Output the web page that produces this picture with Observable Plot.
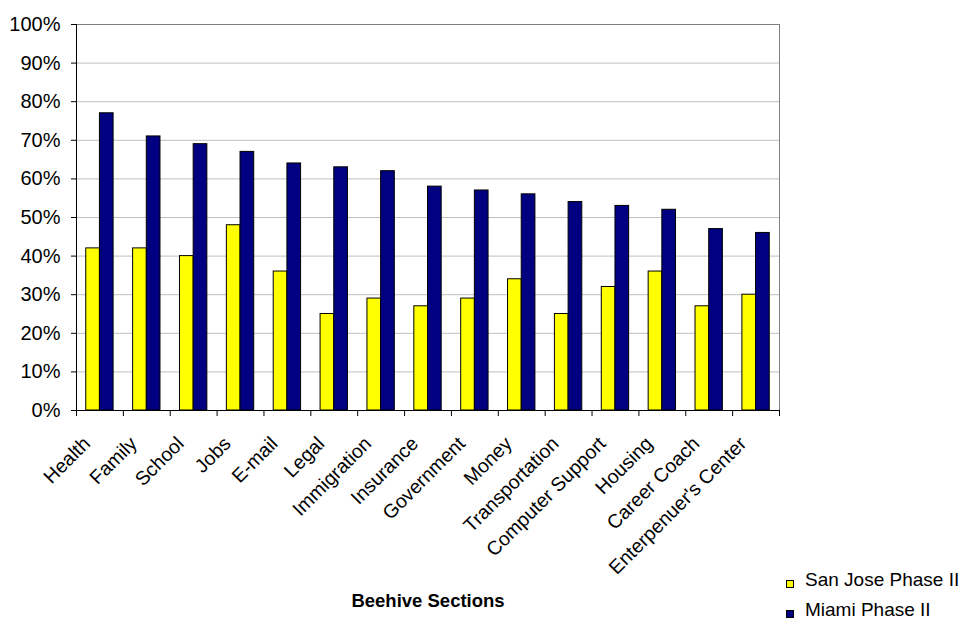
<!DOCTYPE html>
<html>
<head>
<meta charset="utf-8">
<script src="https://cdn.jsdelivr.net/npm/d3@7"></script>
<script src="https://cdn.jsdelivr.net/npm/@observablehq/plot@0.6"></script>
<style>
  body { margin: 0; background: #fff; font-family: "Liberation Sans", Arial, sans-serif; }
  #chart { position: relative; width: 964px; height: 620px; overflow: hidden; }
  .legend { position: absolute; left: 786px; top: 570px; font-size: 19px; color: #000; }
  .legend .row { display: flex; align-items: center; height: 20px; line-height: 20px; margin-bottom: 10px; white-space: nowrap; }
  .legend .sw { box-sizing: border-box; width: 8px; height: 8px; border: 1px solid #000; margin: 8px 11px 0 0; }
</style>
</head>
<body>
<div id="chart"></div>
<script>
// Sections of the Beehive site and share of users visiting each (percent)
const categories = ["Health", "Family", "School", "Jobs", "E-mail", "Legal", "Immigration", "Insurance",
  "Government", "Money", "Transportation", "Computer Support", "Housing", "Career Coach", "Enterpenuer's Center"];
const sanJose = [42, 42, 40, 48, 36, 25, 29, 27, 29, 34, 25, 32, 36, 27, 30];
const miami   = [77, 71, 69, 67, 64, 63, 62, 58, 57, 56, 54, 53, 52, 47, 46];
const seriesNames = ["San Jose Phase II", "Miami Phase II"];
const seriesColors = ["#ffff00", "#000080"];
const yTicks = d3.range(0, 101, 10);

const W = 964, H = 620;
const margin = {top: 24, right: 185, bottom: 210, left: 76};
const band = (W - margin.left - margin.right) / categories.length;
const barFrac = 0.292; // each bar's share of a category band

const rows = categories.map((c, i) => ({category: c, sj: sanJose[i], mi: miami[i]}));

const chart = Plot.plot({
  width: W,
  height: H,
  marginTop: margin.top,
  marginRight: margin.right,
  marginBottom: margin.bottom,
  marginLeft: margin.left,
  style: {fontFamily: "Liberation Sans, Arial, sans-serif", fontSize: "18px", color: "#000", background: "#fff", overflow: "visible"},
  x: {domain: categories, padding: 0, round: false, axis: null},
  y: {domain: [0, 100], axis: null},
  marks: [
    Plot.gridY(yTicks, {stroke: "#c0c0c0", strokeOpacity: 1}),
    Plot.barY(rows, {x: "category", y: "sj", fill: seriesColors[0], stroke: "#000", strokeWidth: 1,
      insetLeft: band * (0.5 - barFrac), insetRight: band * 0.5}),
    Plot.barY(rows, {x: "category", y: "mi", fill: seriesColors[1], stroke: "#000", strokeWidth: 1,
      insetLeft: band * 0.5, insetRight: band * (0.5 - barFrac)}),
    Plot.frame({anchor: "top", stroke: "#808080"}),
    Plot.frame({anchor: "right", stroke: "#808080"}),
    Plot.frame({anchor: "left", stroke: "#000"}),
    Plot.frame({anchor: "bottom", stroke: "#000"}),
    Plot.axisY(yTicks, {tickSize: 5, tickPadding: 11, tickFormat: d => d + "%", label: null, stroke: "#000", fontSize: 20}),
    // tick marks between categories
    Plot.axisX({tickSize: 6, tickFormat: () => "", dx: -band / 2, label: null, stroke: "#000"}),
    Plot.axisX([categories[categories.length - 1]], {tickSize: 6, tickFormat: () => "", dx: band / 2, label: null, stroke: "#000"}),
    // rotated category labels
    Plot.axisX({tickSize: 0, tickRotate: -45, tickPadding: 30, dx: -13, label: null, fontSize: 19.5}),
    Plot.axisX([], {label: "Beehive Sections", labelAnchor: "center", labelArrow: "none", labelOffset: 196, fontWeight: "bold", fontSize: 18.5})
  ]
});

const host = document.getElementById("chart");
host.appendChild(chart);

const legend = document.createElement("div");
legend.className = "legend";
seriesNames.forEach((name, i) => {
  const row = document.createElement("div");
  row.className = "row";
  const sw = document.createElement("span");
  sw.className = "sw";
  sw.style.background = seriesColors[i];
  const label = document.createElement("span");
  label.textContent = name;
  row.appendChild(sw);
  row.appendChild(label);
  legend.appendChild(row);
});
host.appendChild(legend);
</script>
</body>
</html>
